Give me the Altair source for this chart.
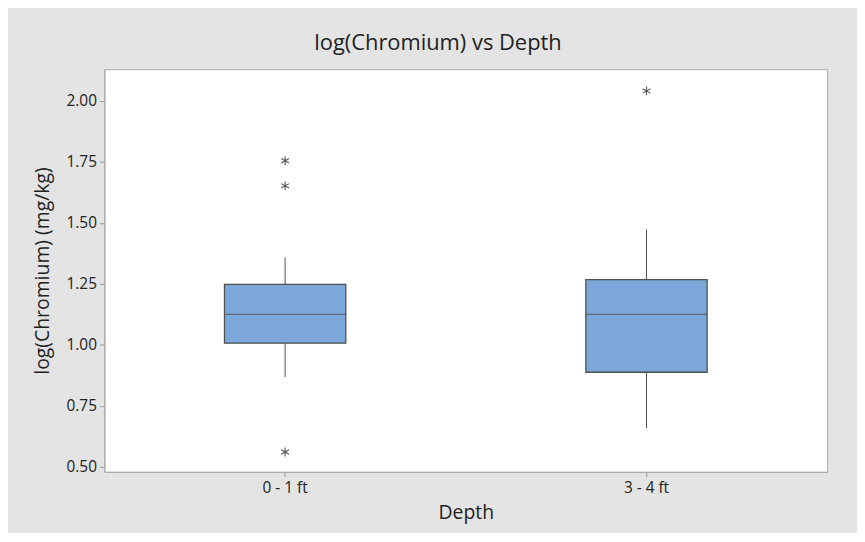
import altair as alt
import pandas as pd

# Summary values
depths = ["0 - 1 ft", "3 - 4 ft"]
q1 = [1.007, 0.888]
median = [1.125, 1.125]
q3 = [1.248, 1.268]
whisker_low = [0.868, 0.659]
whisker_high = [1.358, 1.473]

outlier_depth = ["0 - 1 ft", "0 - 1 ft", "0 - 1 ft", "3 - 4 ft"]
outlier_value = [1.755, 1.652, 0.561, 2.041]

y_ticks = [0.50, 0.75, 1.00, 1.25, 1.50, 1.75, 2.00]

stats = pd.DataFrame({
    "Depth": depths, "q1": q1, "median": median, "q3": q3,
    "lo": whisker_low, "hi": whisker_high,
})
outl = pd.DataFrame({"Depth": outlier_depth, "value": outlier_value})

FONT = "Open Sans"
GRAY = "#505050"

x_enc = alt.X(
    "Depth:N",
    sort=depths,
    scale=alt.Scale(paddingInner=0, paddingOuter=0),
    axis=alt.Axis(
        title="Depth", labelAngle=0, labelFontSize=15.5, titleFontSize=19.5,
        labelColor="#222", titleColor="#222", tickColor="#999", domainColor="#aaa",
        tickSize=5, labelPadding=4, titleFontWeight="normal", titlePadding=7,
        labelFont=FONT, titleFont=FONT,
    ),
)
y_scale = alt.Scale(domain=[0.48, 2.13], nice=False, zero=False)
y_axis = alt.Axis(
    title="log(Chromium) (mg/kg)", values=y_ticks, format=".2f", grid=False,
    labelFontSize=15.5, titleFontSize=19.5, labelColor="#222", titleColor="#222",
    tickColor="#999", domainColor="#aaa", tickSize=5, labelPadding=3,
    titleFontWeight="normal", titlePadding=14, labelFont=FONT, titleFont=FONT,
)

base = alt.Chart(stats)

upper_whisker = base.mark_rule(color=GRAY, strokeWidth=1).encode(
    x=x_enc, y=alt.Y("q3:Q", scale=y_scale, axis=y_axis), y2="hi:Q"
)
lower_whisker = base.mark_rule(color=GRAY, strokeWidth=1).encode(
    x=x_enc, y=alt.Y("lo:Q", scale=y_scale, axis=y_axis), y2="q1:Q"
)
box = base.mark_bar(size=122, color="#7ba7d9", stroke=GRAY, strokeWidth=1.3).encode(
    x=x_enc, y=alt.Y("q1:Q", scale=y_scale, axis=y_axis), y2="q3:Q"
)
med = base.mark_tick(size=122, thickness=1.2, color=GRAY, orient="horizontal").encode(
    x=x_enc, y=alt.Y("median:Q", scale=y_scale, axis=y_axis)
)

asterisk = "M0,-1L0,1M-0.87,-0.5L0.87,0.5M-0.87,0.5L0.87,-0.5"
points = alt.Chart(outl).mark_point(
    shape=asterisk, filled=False, stroke="#555", strokeWidth=1.1, size=80, opacity=1
).encode(
    x=x_enc, y=alt.Y("value:Q", scale=y_scale, axis=y_axis)
)

chart = alt.layer(upper_whisker, lower_whisker, box, med, points).properties(
    width=727,
    height=405,
    title=alt.TitleParams(
        "log(Chromium) vs Depth", fontSize=22, font=FONT, fontWeight="normal",
        color="#222", anchor="middle", dx=-28, offset=14,
    ),
    autosize=alt.AutoSizeParams(type="none"),
    padding={"left": 97, "top": 60, "right": 30, "bottom": 60},
    background="#e4e4e4",
).configure_view(
    stroke="#aaa", strokeWidth=1, fill="white"
)

chart.save("out.html", embed_options={"renderer": "svg", "actions": False})
